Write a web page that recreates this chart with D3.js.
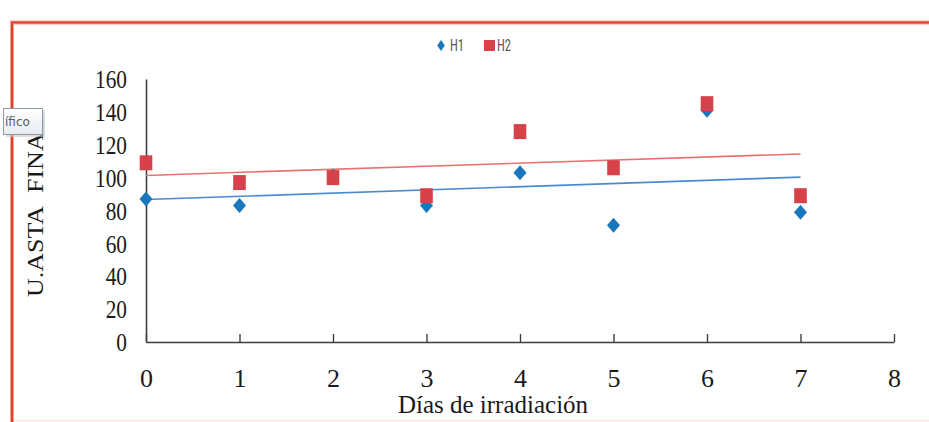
<!DOCTYPE html>
<html>
<head>
<meta charset="utf-8">
<script src="https://cdn.jsdelivr.net/npm/d3@7/dist/d3.min.js"></script>
<style>
  html, body { margin: 0; padding: 0; background: #ffffff; }
  svg { display: block; }
</style>
</head>
<body>
<svg id="chart" width="929" height="422"></svg>
<script>
// ---- Data ----
const days = [0, 1, 2, 3, 4, 5, 6, 7];
const h1Values = [87, 83, 101, 83, 103, 71, 141, 79];
const h2Values = [109, 97, 100, 89, 128, 106, 145, 89];
const xTicks = [0, 1, 2, 3, 4, 5, 6, 7, 8];
const yTicks = [0, 20, 40, 60, 80, 100, 120, 140, 160];
const seriesNames = ["H1", "H2"];
const xTitle = "Días de irradiación";
const yTitle = "U.ASTA\u00A0\u00A0FINAL";
const tooltipText = "ífico";

// ---- Setup ----
const svg = d3.select("#chart");
const W = 929, H = 422;
const x = d3.scaleLinear().domain([0, 8]).range([146, 894]);
const y = d3.scaleLinear().domain([0, 160]).range([342, 79]);

const BLUE = "#1877bd";
const RED = "#d7414a";
const BLUE_LINE = "#4a8bd0";
const RED_LINE = "#e8726f";
const SERIF = "'Liberation Serif', 'Times New Roman', serif";

// faint bottom line
svg.append("line").attr("x1", 12).attr("x2", W).attr("y1", 420.5).attr("y2", 420.5)
  .attr("stroke", "#f6e4dc").attr("stroke-width", 1.5);

// ---- Axes ----
const yAxis = d3.axisLeft(y).tickValues(yTicks).tickSizeInner(0).tickSizeOuter(0).tickPadding(0);
const gy = svg.append("g").attr("transform", `translate(${x(0)},0)`).call(yAxis);
gy.select(".domain").attr("stroke", "#3f3f3f").attr("stroke-width", 1.6);
gy.selectAll(".tick text")
  .attr("x", 0).attr("dy", null)
  .attr("font-family", SERIF).attr("font-size", 26).attr("fill", "#1a1a1a")
  .attr("text-anchor", "end").attr("dominant-baseline", "central")
  .attr("transform", "translate(-19,0) scale(0.82,1)");

const xAxis = d3.axisBottom(x).tickValues(xTicks).tickSizeInner(-8).tickSizeOuter(0).tickPadding(0);
const gx = svg.append("g").attr("transform", `translate(0,${y(0)})`).call(xAxis);
gx.select(".domain").attr("stroke", "#3f3f3f").attr("stroke-width", 1.6);
gx.selectAll(".tick line").attr("stroke", "#3f3f3f").attr("stroke-width", 1.4);
gx.selectAll(".tick text")
  .attr("y", 45).attr("dy", null)
  .attr("font-family", SERIF).attr("font-size", 26).attr("fill", "#1a1a1a");

// ---- Trend lines (least squares) ----
function fit(xs, ys) {
  const n = xs.length;
  const mx = d3.mean(xs), my = d3.mean(ys);
  let num = 0, den = 0;
  for (let i = 0; i < n; i++) { num += (xs[i] - mx) * (ys[i] - my); den += (xs[i] - mx) ** 2; }
  const b = num / den;
  return { a: my - b * mx, b };
}
[[h1Values, BLUE_LINE], [h2Values, RED_LINE]].forEach(([vals, col]) => {
  const f = fit(days, vals);
  const x0 = d3.min(days), x1 = d3.max(days);
  svg.append("line")
    .attr("x1", x(x0)).attr("y1", y(f.a + f.b * x0))
    .attr("x2", x(x1)).attr("y2", y(f.a + f.b * x1))
    .attr("stroke", col).attr("stroke-width", 1.6);
});

// ---- Markers ----
const diamond = (hw, hh) => `M0,${-hh}L${hw},0L0,${hh}L${-hw},0Z`;
svg.append("g").selectAll("path").data(days).join("path")
  .attr("d", diamond(6.5, 7.5))
  .attr("transform", (d, i) => `translate(${x(d)},${y(h1Values[i])})`)
  .attr("fill", BLUE);
svg.append("g").selectAll("rect").data(days).join("rect")
  .attr("x", d => x(d) - 6.3).attr("width", 12.6)
  .attr("y", (d, i) => y(h2Values[i]) - 7.5).attr("height", 15)
  .attr("fill", RED);

// ---- Legend ----
const LEG_FONT = "'Liberation Sans Narrow', 'Arial Narrow', 'Roboto Condensed', 'Liberation Sans', sans-serif";
const leg = svg.append("g");
leg.append("path").attr("d", diamond(3.8, 5.4)).attr("transform", "translate(441,45.5)").attr("fill", BLUE);
leg.append("text").attr("x", 450).attr("y", 46).attr("dominant-baseline", "central")
  .attr("transform", "translate(450,46) scale(0.9,1.15) translate(-450,-46)")
  .attr("font-family", LEG_FONT).attr("font-size", 14).attr("fill", "#595959").text(seriesNames[0]);
leg.append("rect").attr("x", 484).attr("y", 40).attr("width", 11).attr("height", 11).attr("fill", RED);
leg.append("text").attr("x", 497).attr("y", 46).attr("dominant-baseline", "central")
  .attr("transform", "translate(497,46) scale(0.9,1.15) translate(-497,-46)")
  .attr("font-family", LEG_FONT).attr("font-size", 14).attr("fill", "#595959").text(seriesNames[1]);

// ---- Titles ----
svg.append("text")
  .attr("transform", "translate(493,413)")
  .attr("text-anchor", "middle")
  .attr("font-family", SERIF).attr("font-size", 25).attr("fill", "#1a1a1a")
  .text(xTitle);

svg.append("text")
  .attr("transform", "translate(43,297) rotate(-90) scale(1,0.85)")
  .attr("text-anchor", "start")
  .attr("font-family", SERIF).attr("font-size", 26).attr("fill", "#1a1a1a")
  .text(yTitle);

// ---- Red frame ----
svg.append("path")
  .attr("d", `M12,${H}L12,22.5L${W},22.5`)
  .attr("fill", "none").attr("stroke", "#f2a394").attr("stroke-width", 4);
svg.append("path")
  .attr("d", `M12,${H}L12,22.5L${W},22.5`)
  .attr("fill", "none").attr("stroke", "#e0402e").attr("stroke-width", 2);

// ---- Tooltip fragment ----
const defs = svg.append("defs");
const grad = defs.append("linearGradient").attr("id", "tipg").attr("x1", 0).attr("x2", 0).attr("y1", 0).attr("y2", 1);
grad.append("stop").attr("offset", "0%").attr("stop-color", "#ffffff");
grad.append("stop").attr("offset", "100%").attr("stop-color", "#e6ebf1");
svg.append("rect").attr("x", 6).attr("y", 110).attr("width", 39).attr("height", 27)
  .attr("fill", "#c8c8c8").attr("opacity", 0.6);
svg.append("rect").attr("x", 3.5).attr("y", 108.5).attr("width", 39).attr("height", 26)
  .attr("fill", "url(#tipg)").attr("stroke", "#8e99a6").attr("stroke-width", 1);
svg.append("text").attr("x", 5).attr("y", 122).attr("dominant-baseline", "central")
  .attr("font-family", "'DejaVu Sans', 'Liberation Sans', sans-serif").attr("font-size", 12)
  .attr("fill", "#5a5a5a").text(tooltipText);
</script>
</body>
</html>
